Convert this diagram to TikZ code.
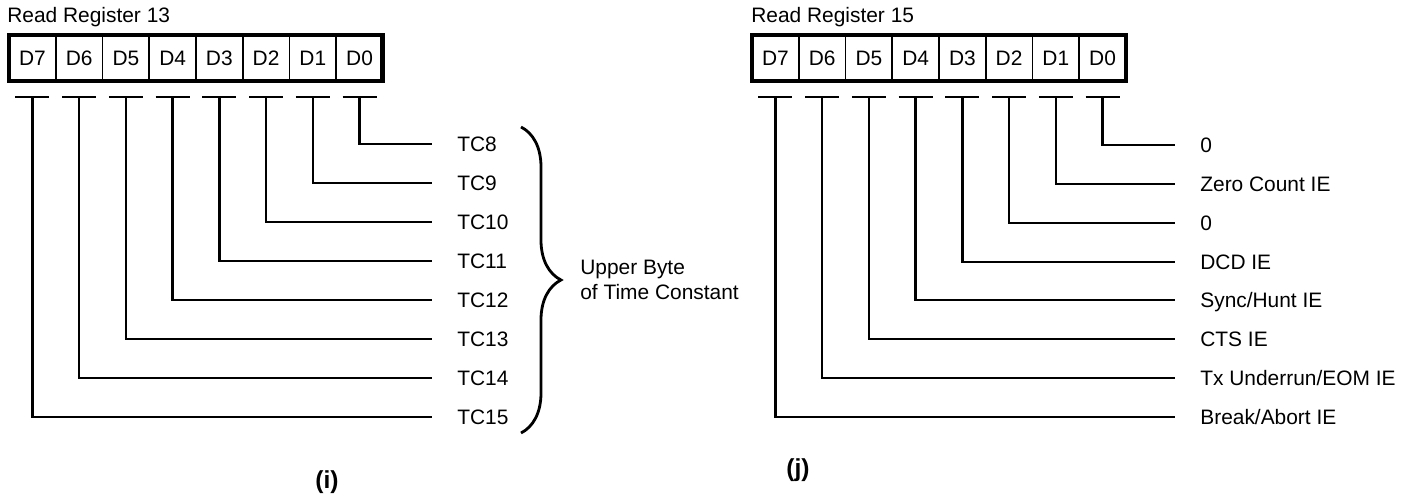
\documentclass[tikz,border=0pt]{standalone}
\usepackage{fontspec}
\setmainfont{Liberation Sans}
\usetikzlibrary{positioning, decorations.pathreplacing}

\begin{document}
\begin{tikzpicture}[
    x=0.02cm, y=-0.02cm,
    node distance=0pt,
    font=\fontsize{11.9}{14}\selectfont,
    bit/.style={rectangle, draw, line width=0.9pt, minimum width=0.935cm,
                minimum height=0.92cm, inner sep=0pt, outer sep=0pt},
    regbox/.style={draw, line width=2.8pt},
    wire/.style={line width=1.4pt, shorten >=0.5cm},
    tbar/.style={line width=1.4pt},
    field/.style={anchor=west, inner sep=0pt, text height=8.6pt, text depth=0pt},
    caption/.style={font=\fontsize{14}{16}\selectfont\bfseries},
]
\useasboundingbox (0,0) rectangle (1411,499);

% Read Register 13
\node[anchor=base west, inner sep=0pt] (title13) at (7,23) {Read Register 13};
\node[bit] (a7) at (32.4,58) {D7};
\node[bit, right=of a7] (a6) {D6};
\node[bit, right=of a6] (a5) {D5};
\node[bit, right=of a5] (a4) {D4};
\node[bit, right=of a4] (a3) {D3};
\node[bit, right=of a3] (a2) {D2};
\node[bit, right=of a2] (a1) {D1};
\node[bit, right=of a1] (a0) {D0};
\draw[regbox] (a7.north west) rectangle (a0.south east);

\node[field] (tc8)  at (457,144) {TC8};
\node[field] (tc9)  at (457,183) {TC9};
\node[field] (tc10) at (457,222) {TC10};
\node[field] (tc11) at (457,261) {TC11};
\node[field] (tc12) at (457,300) {TC12};
\node[field] (tc13) at (457,339) {TC13};
\node[field] (tc14) at (457,378) {TC14};
\node[field] (tc15) at (457,417) {TC15};

\foreach \b/\f in {0/tc8, 1/tc9, 2/tc10, 3/tc11, 4/tc12, 5/tc13, 6/tc14, 7/tc15} {
    \coordinate (ta\b) at ([yshift=-0.32cm]a\b.south);
    \draw[tbar] ([xshift=-0.34cm]ta\b) -- ([xshift=0.34cm]ta\b);
    \draw[wire] (ta\b) |- (\f.west);
}

\draw[decorate, decoration={brace, amplitude=0.8cm}, line width=1.6pt]
    (521,127) -- (521,433);
\node[anchor=west, align=left, inner sep=0pt] (upper) at (580,280)
    {Upper Byte\\of Time Constant};

\node[caption] (capi) at (327,482) {(i)};

% Read Register 15
\node[anchor=base west, inner sep=0pt] (title15) at (751,23) {Read Register 15};
\node[bit] (b7) at (775.4,58) {D7};
\node[bit, right=of b7] (b6) {D6};
\node[bit, right=of b6] (b5) {D5};
\node[bit, right=of b5] (b4) {D4};
\node[bit, right=of b4] (b3) {D3};
\node[bit, right=of b3] (b2) {D2};
\node[bit, right=of b2] (b1) {D1};
\node[bit, right=of b1] (b0) {D0};
\draw[regbox] (b7.north west) rectangle (b0.south east);

\node[field] (zero0)  at (1200,145) {0};
\node[field] (zcie)   at (1200,184) {Zero Count IE};
\node[field] (zero2)  at (1200,223) {0};
\node[field] (dcdie)  at (1200,262) {DCD IE};
\node[field] (syncie) at (1200,300) {Sync/Hunt IE};
\node[field] (ctsie)  at (1200,339) {CTS IE};
\node[field] (txie)   at (1200,378) {Tx Underrun/EOM IE};
\node[field] (brkie)  at (1200,417) {Break/Abort IE};

\foreach \b/\f in {0/zero0, 1/zcie, 2/zero2, 3/dcdie, 4/syncie, 5/ctsie, 6/txie, 7/brkie} {
    \coordinate (tb\b) at ([yshift=-0.32cm]b\b.south);
    \draw[tbar] ([xshift=-0.34cm]tb\b) -- ([xshift=0.34cm]tb\b);
    \draw[wire] (tb\b) |- (\f.west);
}

\node[caption] (capj) at (798,470) {(j)};
\end{tikzpicture}
\end{document}
